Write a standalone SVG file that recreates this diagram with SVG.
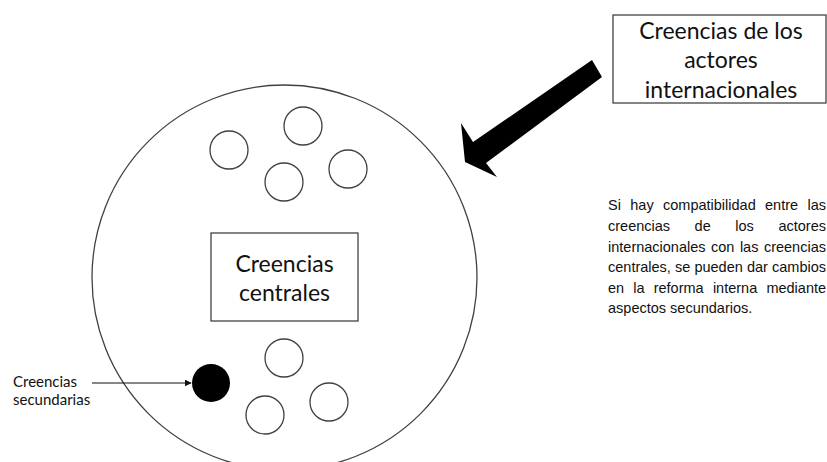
<svg xmlns="http://www.w3.org/2000/svg" width="827" height="462" viewBox="0 0 827 462">
<defs>
<style>
.ring{fill:none;stroke:#404040;stroke-width:1.3}
.box{fill:#fff;stroke:#333;stroke-width:1.2}
.t{font-family:Lato,"Liberation Sans",Arial,sans-serif;fill:#111}
.big{font-size:23px;text-anchor:middle}
.small{font-size:15px}
.para{font-family:"Liberation Sans",Arial,sans-serif;font-size:14.5px;fill:#111}
</style>
<marker id="ah" viewBox="0 0 10 10" refX="9" refY="5" markerWidth="7" markerHeight="7" markerUnits="userSpaceOnUse" orient="auto">
<path d="M0,0 L10,5 L0,10 z" fill="#111"/>
</marker>
</defs>
<rect width="827" height="462" fill="#fff"/>
<g id="outer-circle"><circle class="ring" cx="284.5" cy="277.5" r="192.5"/></g>
<g id="small-circles">
<circle class="ring" cx="229" cy="150" r="19"/>
<circle class="ring" cx="303" cy="126" r="19"/>
<circle class="ring" cx="284" cy="182" r="19"/>
<circle class="ring" cx="348" cy="169" r="19"/>
<circle class="ring" cx="284" cy="358" r="19"/>
<circle class="ring" cx="265" cy="415" r="19"/>
<circle class="ring" cx="329" cy="402" r="19"/>
</g>
<g id="secondary-belief"><circle cx="211" cy="383" r="19" fill="#000"/></g>
<g id="central-beliefs">
<rect class="box" x="211" y="233" width="147" height="88"/>
<text class="t big" x="284.5" y="272">Creencias</text>
<text class="t big" x="284.5" y="301">centrales</text>
</g>
<g id="international-actors">
<rect class="box" x="613" y="15" width="213" height="88"/>
<text class="t big" x="721" y="39">Creencias de los</text>
<text class="t big" x="721" y="68">actores</text>
<text class="t big" x="721" y="98">internacionales</text>
</g>
<g id="secondary-label">
<text class="t small" x="13" y="387">Creencias</text>
<text class="t small" x="13" y="405">secundarias</text>
</g>
<g id="description">
<text class="para" y="210"><tspan x="608">Si</tspan><tspan x="630.3">hay</tspan><tspan x="663">compatibilidad</tspan><tspan x="765">entre</tspan><tspan x="807.5">las</tspan></text>
<text class="para" y="231"><tspan x="608">creencias</tspan><tspan x="694.6">de</tspan><tspan x="735.3">los</tspan><tspan x="778.4">actores</tspan></text>
<text class="para" y="251.5"><tspan x="608">internacionales</tspan><tspan x="711">con</tspan><tspan x="739.9">las</tspan><tspan x="763.9">creencias</tspan></text>
<text class="para" y="272"><tspan x="608">centrales,</tspan><tspan x="675">se</tspan><tspan x="694.4">pueden</tspan><tspan x="746.9">dar</tspan><tspan x="772">cambios</tspan></text>
<text class="para" y="292.5"><tspan x="608">en</tspan><tspan x="633.3">la</tspan><tspan x="653.7">reforma</tspan><tspan x="712.9">interna</tspan><tspan x="766.4">mediante</tspan></text>
<text class="para" y="313" x="608">aspectos secundarios.</text>
</g>
<g id="connectors">
<line x1="92" y1="383" x2="191" y2="383" stroke="#111" stroke-width="1.2" marker-end="url(#ah)"/>
<polygon points="592,60 602,77 486,163 497,177 465,162 461,123 473,142" fill="#000"/>
</g>
</svg>
